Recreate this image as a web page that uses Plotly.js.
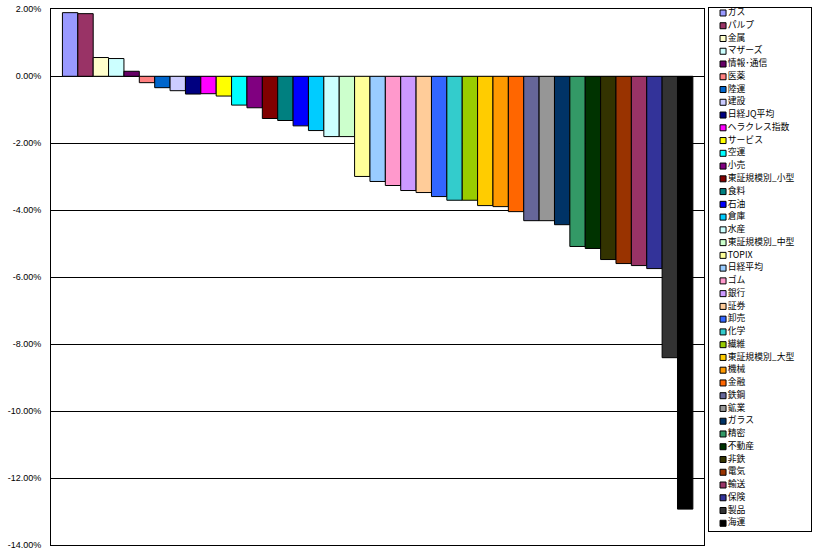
<!DOCTYPE html>
<html>
<head>
<meta charset="utf-8">
<script src="https://cdn.plot.ly/plotly-3.0.1.min.js"></script>
<style>html,body{margin:0;padding:0;background:#fff;}#chart{width:837px;height:560px;}</style>
</head>
<body>
<div id="chart"></div>
<script>
const categories = ["ガス","パルプ","金属","マザーズ","情報･通信","医薬","陸運","建設","日経JQ平均","ヘラクレス指数","サービス","空運","小売","東証規模別_小型","食料","石油","倉庫","水産","東証規模別_中型","TOPIX","日経平均","ゴム","銀行","証券","卸売","化学","繊維","東証規模別_大型","機械","金融","鉄鋼","鉱業","ガラス","精密","不動産","非鉄","電気","輸送","保険","製品","海運"];
const values = [1.90,1.87,0.56,0.53,0.15,-0.19,-0.34,-0.43,-0.53,-0.52,-0.59,-0.86,-0.94,-1.26,-1.32,-1.48,-1.62,-1.80,-1.80,-2.99,-3.14,-3.26,-3.41,-3.47,-3.59,-3.70,-3.70,-3.86,-3.89,-4.04,-4.31,-4.31,-4.43,-5.08,-5.14,-5.47,-5.59,-5.65,-5.74,-8.40,-12.92];
const colors = ["#9999FF","#993366","#FFFFCC","#CCFFFF","#660066","#FF8080","#0066CC","#CCCCFF","#000080","#FF00FF","#FFFF00","#00FFFF","#800080","#800000","#008080","#0000FF","#00CCFF","#CCFFFF","#CCFFCC","#FFFF99","#99CCFF","#FF99CC","#CC99FF","#FFCC99","#3366FF","#33CCCC","#99CC00","#FFCC00","#FF9900","#FF6600","#666699","#969696","#003366","#339966","#003300","#333300","#993300","#993366","#333399","#333333","#000000"];
const tickVals = [2,0,-2,-4,-6,-8,-10,-12,-14];
const tickText = ["2.00%","0.00%","-2.00%","-4.00%","-6.00%","-8.00%","-10.00%","-12.00%","-14.00%"];

const traces = categories.map((name, i) => ({
  type: 'bar', name: name, x: [''], y: [values[i]],
  marker: {color: colors[i], line: {color: '#000', width: 1}},
  showlegend: false, hoverinfo: 'name+y'
}));

// legend list drawn through its own (hidden) axes
traces.push({
  type: 'scatter', mode: 'markers+text', xaxis: 'x2', yaxis: 'y2',
  x: categories.map(() => 13.7), y: categories.map((_, i) => i),
  text: categories, textposition: 'middle right',
  textfont: {family: '"Noto Sans CJK JP", sans-serif', size: 8.8, color: '#000'},
  marker: {symbol: 'square', size: 6, color: colors, line: {color: '#000', width: 1}},
  showlegend: false, hoverinfo: 'skip', cliponaxis: false
});

const layout = {
  width: 837, height: 560,
  margin: {l: 51, r: 26, t: 8, b: 14},
  paper_bgcolor: '#fff', plot_bgcolor: '#fff',
  barmode: 'group', bargap: 0.035, bargroupgap: 0,
  showlegend: false,
  xaxis: {domain: [0, 0.8596], type: 'category', showticklabels: false, ticks: '',
          showgrid: false, showline: true, mirror: true, linecolor: '#000', linewidth: 1, zeroline: false, fixedrange: true},
  yaxis: {domain: [0.0013, 0.9976], range: [-14, 2], tickvals: tickVals, ticktext: tickText,
          showgrid: true, gridcolor: '#000', gridwidth: 1, zeroline: true, zerolinecolor: '#000', zerolinewidth: 1,
          showline: true, mirror: true, linecolor: '#000', linewidth: 1, ticks: '', ticklabelstandoff: 7,
          tickfont: {family: '"Liberation Sans", Arial, sans-serif', size: 9, color: '#000'}, fixedrange: true},
  xaxis2: {domain: [0.8662, 1], range: [0, 101.5], anchor: 'y2', showticklabels: false, ticks: '',
           showgrid: false, zeroline: false, showline: true, mirror: true, linecolor: '#000', linewidth: 1, fixedrange: true},
  yaxis2: {domain: [0.0273, 1], range: [40.63, -0.39], anchor: 'x2', showticklabels: false, ticks: '',
           showgrid: false, zeroline: false, showline: true, mirror: true, linecolor: '#000', linewidth: 1, fixedrange: true}
};

Plotly.newPlot('chart', traces, layout, {displayModeBar: false, staticPlot: true});
</script>
</body>
</html>
